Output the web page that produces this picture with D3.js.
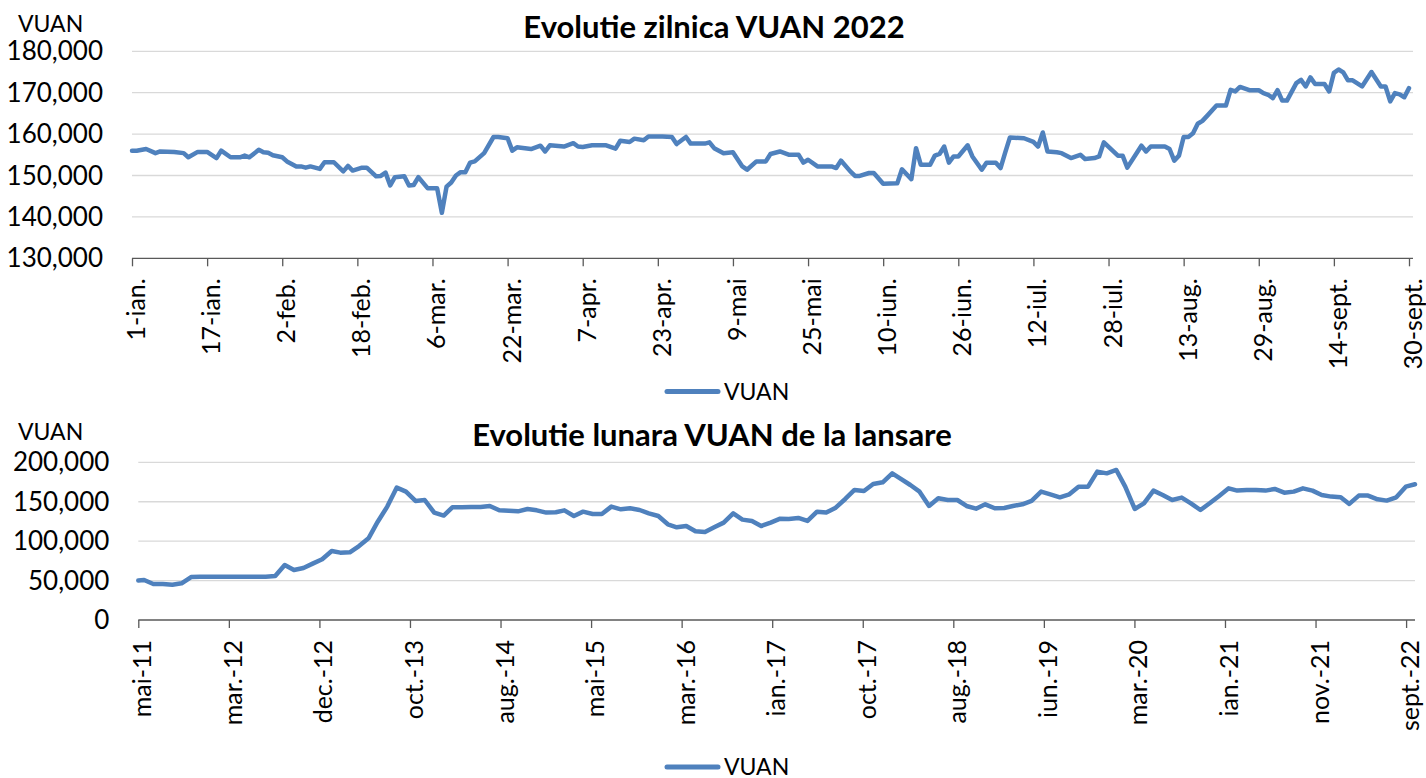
<!DOCTYPE html>
<html>
<head>
<meta charset="utf-8">
<script src="https://cdn.jsdelivr.net/npm/d3@7"></script>
<style>
  body { margin: 0; background: #fff; }
  svg { display: block; font-family: Lato, "Open Sans", sans-serif; }
</style>
</head>
<body>
<div id="canvas"></div>
<script>
// grafic zilnic 2022: zi din an (0 = 1 ian.) si valoarea VUAN
const dailyDay = [
  0, 1, 3, 5, 6, 9, 11, 12, 14, 16,
  18, 19, 21, 23, 24, 25, 27, 28, 29, 30,
  32, 33, 35, 36, 37, 38, 40, 41, 43, 45,
  46, 47, 49, 50, 52, 53, 54, 55, 56, 58,
  59, 60, 61, 63, 65, 66, 67, 68, 69, 70,
  71, 72, 73, 75, 77, 78, 80, 81, 82, 85,
  87, 88, 89, 92, 94, 95, 96, 98, 101, 103,
  104, 106, 107, 109, 110, 113, 115, 116, 118, 119,
  122, 123, 124, 126, 128, 130, 131, 133, 135, 136,
  138, 140, 142, 143, 144, 146, 149, 150, 151, 153,
  154, 155, 157, 158, 160, 163, 164, 166, 167, 168,
  170, 171, 172, 173, 174, 175, 176, 178, 179, 181,
  182, 184, 185, 186, 187, 190, 192, 193, 194, 195,
  197, 198, 200, 202, 203, 205, 206, 207, 210, 211,
  212, 215, 216, 217, 220, 221, 222, 223, 224, 225,
  226, 227, 228, 229, 231, 233, 234, 235, 236, 238,
  240, 241, 242, 243, 244, 245, 246, 248, 249, 250,
  251, 252, 254, 255, 256, 257, 258, 259, 260, 262,
  264, 266, 267, 268, 269, 270, 271, 272
];
const dailyValue = [
  156000, 156000, 156400, 155400, 155800, 155700, 155400, 154400, 155700, 155700,
  154200, 156000, 154400, 154400, 154800, 154400, 156200, 155600, 155500, 154900,
  154400, 153400, 152200, 152200, 151900, 152200, 151600, 153200, 153200, 151000,
  152300, 151200, 151900, 151900, 149800, 149900, 150700, 147600, 149600, 149800,
  147600, 147700, 149600, 146900, 146900, 141000, 147300, 148300, 150000, 150800,
  150800, 153100, 153400, 155400, 159300, 159300, 159000, 156000, 156800, 156400,
  157200, 155800, 157300, 157000, 157800, 157000, 156900, 157300, 157300, 156500,
  158400, 158100, 158900, 158500, 159400, 159400, 159300, 157600, 159300, 157700,
  157700, 158000, 156600, 155400, 155600, 152200, 151400, 153400, 153400, 155200,
  155800, 155000, 155000, 153100, 153800, 152200, 152200, 151800, 153600, 151000,
  149900, 149900, 150600, 150600, 148000, 148100, 151500, 149100, 156600, 152600,
  152600, 154800, 155200, 157000, 153100, 154600, 154600, 157300, 154600, 151400,
  153100, 153100, 151800, 155600, 159200, 159000, 158100, 157000, 160400, 155800,
  155600, 155400, 154200, 155000, 154000, 154200, 154600, 158000, 154800, 154800,
  151900, 157200, 155800, 157000, 157000, 156400, 153600, 154800, 159300, 159300,
  160200, 162500, 163200, 164400, 166900, 166900, 170700, 170300, 171400, 170600,
  170600, 169900, 169500, 168700, 170600, 168100, 168100, 172300, 173100, 171500,
  173700, 172100, 172100, 170300, 174800, 175600, 174900, 173000, 173000, 171500,
  175000, 171500, 171500, 167900, 169900, 169600, 168900, 171100
];
const dailyTicks = ["1-ian.", "17-ian.", "2-feb.", "18-feb.", "6-mar.", "22-mar.", "7-apr.", "23-apr.", "9-mai",
  "25-mai", "10-iun.", "26-iun.", "12-iul.", "28-iul.", "13-aug.", "29-aug.", "14-sept.", "30-sept."];
const dailyYTicks = [130000, 140000, 150000, 160000, 170000, 180000];

// grafic lunar de la lansare (12 mai 2011), apoi sfarsit de luna mai 2011 ... sept. 2022
const launchValue = 50000;
const monthlyValue = [
  50700, 45700, 45700, 44800, 46500, 54500, 55000, 55000, 55000, 55000,
  55000, 55000, 55000, 55000, 55800, 69800, 63400, 66000, 71500, 77000,
  87500, 85400, 85800, 93800, 103600, 124700, 143800, 167900, 162800, 151000,
  152200, 136200, 132400, 142900, 142900, 143300, 143300, 144600, 139100, 138700,
  137800, 140800, 139100, 136200, 136600, 139100, 131900, 137400, 134500, 134500,
  143800, 140400, 141700, 139500, 135300, 131900, 121400, 117600, 119200, 112500,
  111600, 117600, 123500, 135300, 127300, 125600, 119200, 123500, 128500, 128100,
  129400, 125600, 137400, 136200, 142500, 153500, 164900, 163600, 172500, 174600,
  186000, 178900, 171200, 162800, 144600, 154300, 152200, 152200, 144600, 141200,
  146700, 141700, 142100, 144600, 146700, 151000, 162800, 159400, 155600, 159400,
  169100, 169100, 188200, 186000, 190300, 169100, 140800, 148000, 164100, 158600,
  152200, 155200, 148000, 139500, 148000, 157300, 167000, 164100, 164900, 164900,
  164100, 166200, 161500, 162800, 167000, 164100, 158600, 156500, 155600, 147200,
  157800, 157800, 153100, 151400, 155600, 169100, 172100
];
const monthlyTicks = ["mai-11", "mar.-12", "dec.-12", "oct.-13", "aug.-14", "mai-15", "mar.-16", "ian.-17",
  "oct.-17", "aug.-18", "iun.-19", "mar.-20", "ian.-21", "nov.-21", "sept.-22"];
const monthlyYTicks = [0, 50000, 100000, 150000, 200000];

const lineColor = "#4F81BD";
const fmt = d3.format(",");

const svg = d3.select("#canvas").append("svg")
    .attr("width", 1426)
    .attr("height", 778)
    .style("background", "#fff");

const start2022 = new Date(2022, 0, 1);
const dailyData = dailyDay.map((d, i) => ({date: d3.timeDay.offset(start2022, d), v: dailyValue[i]}));

const launchDate = new Date(2011, 4, 12);
const monthlyData = [{date: launchDate, v: launchValue}].concat(
    monthlyValue.map((v, i) => ({date: d3.timeDay.offset(d3.timeMonth.offset(new Date(2011, 5, 1), i), -1), v: v})));

function drawChart(opt) {
    const g = svg.append("g");

    const x = d3.scaleTime().domain(opt.xDomain).range([opt.left, opt.right]);
    const y = d3.scaleLinear().domain(opt.yDomain).range([opt.bottom, opt.top]);

    // linii de grila
    g.selectAll(".grid").data(opt.yTicks.slice(1))
        .enter().append("line")
            .attr("x1", opt.left)
            .attr("x2", opt.gridEnd)
            .attr("y1", d => y(d))
            .attr("y2", d => y(d))
            .attr("stroke", "#D9D9D9")
            .attr("stroke-width", 1.3);

    // etichete axa y
    g.selectAll(".ylab").data(opt.yTicks)
        .enter().append("text")
            .attr("x", opt.left - 29)
            .attr("y", d => y(d))
            .attr("dy", "0.35em")
            .attr("text-anchor", "end")
            .style("font-size", "26px")
            .style("fill", "#000")
            .text(d => fmt(d));

    const xAxis = d3.axisBottom(x)
        .tickValues(opt.tickDates)
        .tickFormat((d, i) => opt.tickLabels[i])
        .tickSize(8)
        .tickSizeOuter(0);

    const ax = g.append("g")
        .attr("transform", "translate(0," + opt.bottom + ")")
        .call(xAxis);
    ax.select(".domain").attr("stroke", "#595959").attr("stroke-width", 1.3)
        .attr("d", "M" + opt.left + ",0H" + opt.gridEnd);
    ax.selectAll(".tick line").attr("stroke", "#595959").attr("stroke-width", 1.3);
    ax.selectAll(".tick text")
        .attr("transform", "rotate(-90)")
        .attr("x", -20)
        .attr("y", 0)
        .attr("dy", "0.5em")
        .style("text-anchor", "end")
        .style("font-size", "25px")
        .style("font-family", "Lato, sans-serif")
        .style("fill", "#000");

    const line = d3.line()
        .x(d => x(d.date))
        .y(d => y(d.v));

    g.append("path")
        .datum(opt.data)
        .attr("fill", "none")
        .attr("stroke", lineColor)
        .attr("stroke-width", 4.5)
        .attr("stroke-linejoin", "round")
        .attr("stroke-linecap", "round")
        .attr("d", line);

    // titlu si eticheta unitate
    g.append("text")
        .attr("x", opt.titleX)
        .attr("y", opt.titleY)
        .attr("text-anchor", "middle")
        .style("font-size", "31px")
        .style("font-weight", "bold")
        .text(opt.title);

    g.append("text")
        .attr("x", 18)
        .attr("y", opt.unitY)
        .style("font-size", "23px")
        .text("VUAN");

    // legenda
    g.append("line")
        .attr("x1", 667).attr("x2", 718)
        .attr("y1", opt.legendY).attr("y2", opt.legendY)
        .attr("stroke", lineColor)
        .attr("stroke-width", 5)
        .attr("stroke-linecap", "round");
    g.append("text")
        .attr("x", 724)
        .attr("y", opt.legendY)
        .attr("dy", "0.35em")
        .style("font-size", "23px")
        .text("VUAN");
}

drawChart({
    data: dailyData,
    xDomain: [start2022, new Date(2022, 8, 30)],
    yDomain: [130000, 180000],
    yTicks: dailyYTicks,
    tickDates: dailyTicks.map((t, i) => d3.timeDay.offset(start2022, 16 * i)),
    tickLabels: dailyTicks,
    left: 132, right: 1409, gridEnd: 1413,
    top: 51.3, bottom: 258.3,
    title: "Evolutie zilnica VUAN 2022",
    titleX: 714, titleY: 38,
    unitY: 32,
    legendY: 391.5
});

drawChart({
    data: monthlyData,
    xDomain: [launchDate, new Date(2022, 8, 30)],
    yDomain: [0, 200000],
    yTicks: monthlyYTicks,
    tickDates: monthlyTicks.map((t, i) => d3.timeDay.offset(launchDate, 295 * i)),
    tickLabels: monthlyTicks,
    left: 138.3, right: 1415, gridEnd: 1415,
    top: 462.3, bottom: 620,
    title: "Evolutie lunara VUAN de la lansare",
    titleX: 712, titleY: 446,
    unitY: 440,
    legendY: 767
});
</script>
</body>
</html>
